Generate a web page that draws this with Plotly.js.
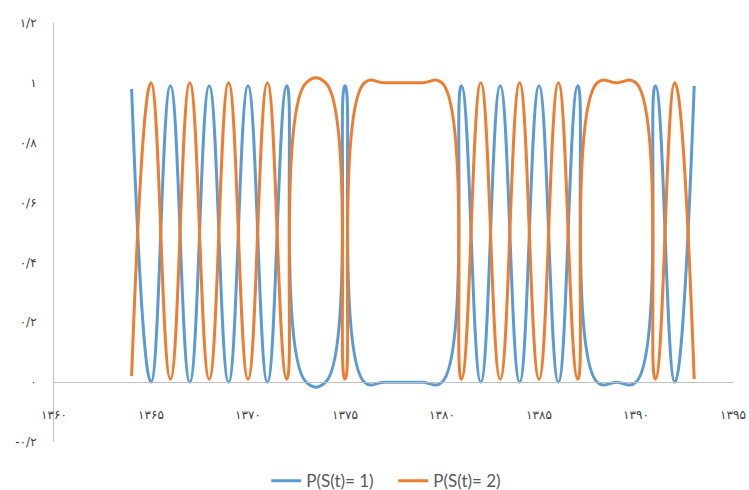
<!DOCTYPE html>
<html>
<head>
<meta charset="utf-8">
<script src="https://cdn.plot.ly/plotly-3.0.1.min.js"></script>
<style>html,body{margin:0;padding:0;background:#fff;}#chart{width:749px;height:490px;}</style>
</head>
<body>
<div id="chart"></div>
<script>
var years = [1364,1365,1366,1367,1368,1369,1370,1371,1372,1373,1374,1375,1376,1377,1378,1379,1380,1381,1382,1383,1384,1385,1386,1387,1388,1389,1390,1391,1392,1393];
var p1 = [0.98,0,0.99,0,0.99,0,0.99,0,0.99,0,0,0.99,0,0,0,0,0,0.99,0,0.99,0,0.99,0,0.99,0,0,0,0.99,0,0.99];
var p2 = [0.02,1,0.01,1,0.01,1,0.01,1,0.01,1,1,0.01,1,1,1,1,1,0.01,1,0.01,1,0.01,1,0.01,1,1,1,0.01,1,0.01];
var seriesNames = ['P(S(t)= 1)', 'P(S(t)= 2)'];
var xTickVals = [1360,1365,1370,1375,1380,1385,1390,1395];
var xTickText = ['۱۳۶۰','۱۳۶۵','۱۳۷۰','۱۳۷۵','۱۳۸۰','۱۳۸۵','۱۳۹۰','۱۳۹۵'];
var yTickVals = [-0.2,0,0.2,0.4,0.6,0.8,1,1.2];
var yTickText = ['-۰/۲','۰','۰/۲','۰/۴','۰/۶','۰/۸','۱','۱/۲'];

var traces = [
  {x: years, y: p1, name: seriesNames[0], type: 'scatter', mode: 'lines',
   line: {color: '#5B9BD5', width: 3, shape: 'spline', smoothing: 1.3}},
  {x: years, y: p2, name: seriesNames[1], type: 'scatter', mode: 'lines',
   line: {color: '#ED7D31', width: 3, shape: 'spline', smoothing: 1.3}}
];

var layout = {
  width: 749, height: 490,
  margin: {l: 54, r: 16, t: 23, b: 48},
  paper_bgcolor: '#fff', plot_bgcolor: '#fff',
  showlegend: true,
  legend: {orientation: 'h', xref: 'container', yref: 'container',
           x: 0.525, xanchor: 'center', y: 0.018, yanchor: 'middle',
           entrywidth: 82,
           font: {family: 'Lato, "Open Sans", sans-serif', size: 17, color: '#595959'}},
  xaxis: {range: [1360, 1395], anchor: 'free', position: 0.142857,
          showline: true, linecolor: '#bfbfbf', linewidth: 1,
          showgrid: false, zeroline: false, ticks: '',
          tickmode: 'array', tickvals: xTickVals, ticktext: xTickText,
          ticklabelstandoff: 21,
          tickfont: {family: '"DejaVu Sans", sans-serif', size: 12, color: '#404040'}},
  yaxis: {range: [-0.2, 1.2], showline: true, linecolor: '#bfbfbf', linewidth: 1,
          showgrid: false, zeroline: false, ticks: '',
          tickmode: 'array', tickvals: yTickVals, ticktext: yTickText,
          ticklabelstandoff: 14,
          tickfont: {family: '"DejaVu Sans", sans-serif', size: 12, color: '#404040'}}
};

Plotly.newPlot('chart', traces, layout, {displayModeBar: false, staticPlot: true});
</script>
</body>
</html>
